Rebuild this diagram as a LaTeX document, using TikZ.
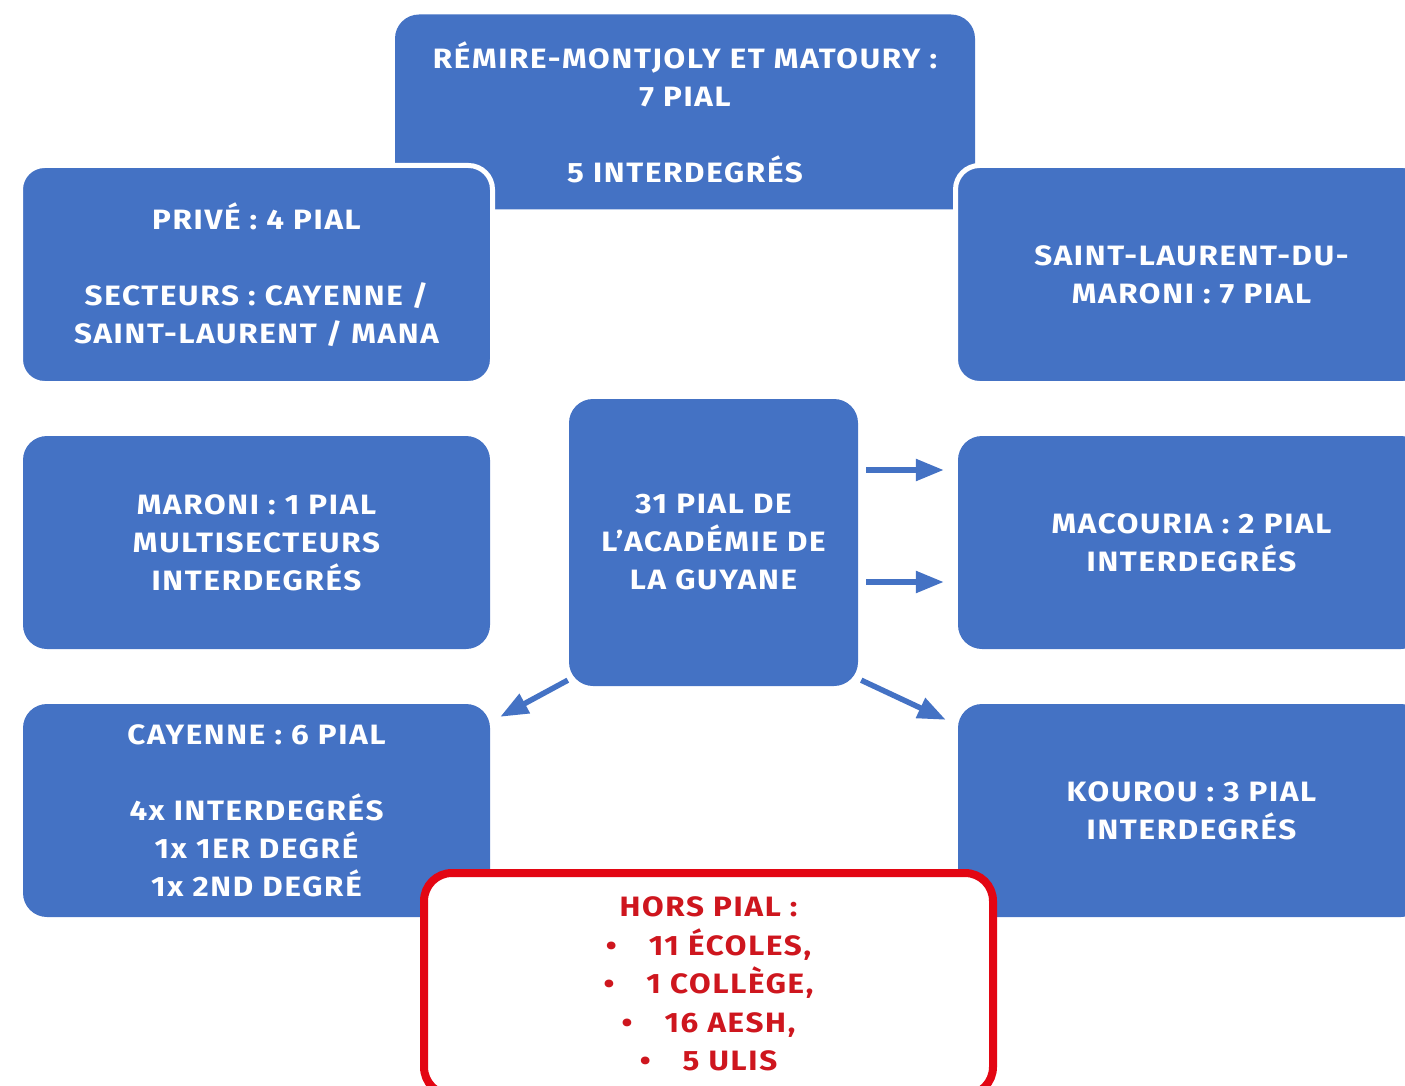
\documentclass[tikz,border=0pt]{standalone}
\usepackage{fontspec}
\setmainfont{Fira Sans}[FakeStretch=1.12, LetterSpace=6]
\usetikzlibrary{arrows.meta}
\definecolor{boxblue}{RGB}{68,114,196}
\definecolor{redline}{RGB}{227,6,19}
\definecolor{redtext}{RGB}{206,22,30}
\tikzset{
  bbox/.style={fill=boxblue, rounded corners=24pt, inner sep=0pt, align=center,
    text=white, font=\fontsize{28}{38}\selectfont\bfseries},
  wbox/.style={bbox, draw=white, line width=5pt},
  redbox/.style={fill=white, draw=redline, line width=8pt, rounded corners=28pt,
    inner sep=0pt, align=center, text=redtext, font=\fontsize{28}{38.5}\selectfont\bfseries},
  arr/.style={draw=boxblue, line width=5.5pt, -{Triangle[length=28pt,width=21pt]}}
}
\begin{document}
\begin{tikzpicture}[x=1pt,y=-1pt]
\useasboundingbox (0,0) rectangle (1405,1086);
\clip (0,0) rectangle (1405,1086);
\node[bbox, minimum width=580pt, minimum height=195pt] (top) at (685,112)
  {RÉMIRE-MONTJOLY ET MATOURY :\\7 PIAL\\[38pt]5 INTERDEGRÉS};
\node[wbox, minimum width=472pt, minimum height=218pt] (prive) at (256.5,274.5)
  {PRIVÉ : 4 PIAL\\[38pt]SECTEURS : CAYENNE /\\SAINT-LAURENT / MANA};
\node[wbox, minimum width=472pt, minimum height=218pt] (stl) at (1191.5,274.5)
  {SAINT-LAURENT-DU-\\MARONI : 7 PIAL};
\node[bbox, minimum width=467pt, minimum height=213pt] (maroni) at (256.5,542.5)
  {MARONI : 1 PIAL\\MULTISECTEURS\\INTERDEGRÉS};
\node[bbox, minimum width=289pt, minimum height=287pt] (mid) at (713.5,542.5)
  {31 PIAL DE\\L’ACADÉMIE DE\\LA GUYANE};
\node[bbox, minimum width=467pt, minimum height=213pt] (mac) at (1191.5,542.5)
  {MACOURIA : 2 PIAL\\INTERDEGRÉS};
\node[bbox, minimum width=467pt, minimum height=213pt] (cay) at (256.5,810.5)
  {CAYENNE : 6 PIAL\\[38pt]4x INTERDEGRÉS\\1x 1ER DEGRÉ\\1x 2ND DEGRÉ};
\node[bbox, minimum width=467pt, minimum height=213pt] (kou) at (1191.5,810.5)
  {KOUROU : 3 PIAL\\INTERDEGRÉS};
\node[redbox, minimum width=569pt, minimum height=222pt] (hors) at (708.5,984)
  {HORS PIAL :\\•\hspace{32pt}11 ÉCOLES,\\•\hspace{32pt}1 COLLÈGE,\\•\hspace{32pt}16 AESH,\\•\hspace{32pt}5 ULIS};
\draw[arr] ([shift={(8pt,72.5pt)}]mid.east) -- ([shift={(-14pt,72.5pt)}]mac.west);
\draw[arr] ([shift={(8pt,-39.5pt)}]mid.east) -- ([shift={(-14pt,-39.5pt)}]mac.west);
\draw[arr] ([shift={(-1pt,6pt)}]mid.south west) -- ([shift={(10pt,-13pt)}]cay.north east);
\draw[arr] ([shift={(3pt,6pt)}]mid.south east) -- ([shift={(-12pt,-16pt)}]kou.north west);
\end{tikzpicture}
\end{document}
